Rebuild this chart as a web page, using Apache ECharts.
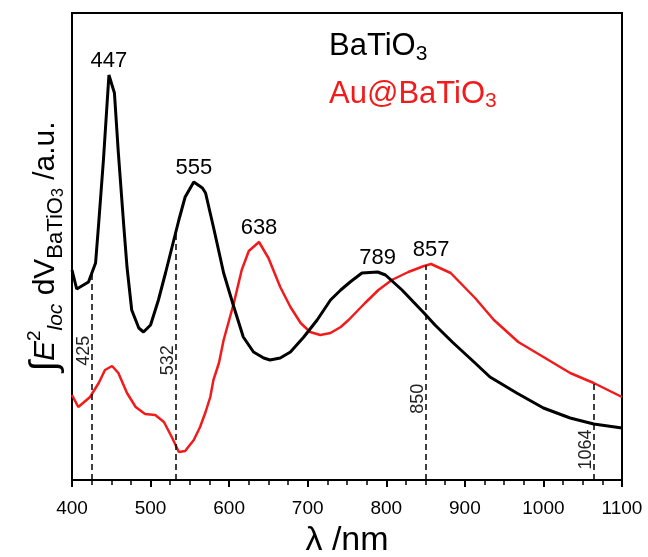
<!DOCTYPE html>
<html>
<head>
<meta charset="utf-8">
<script src="https://cdn.jsdelivr.net/npm/echarts@6/dist/echarts.min.js"></script>
<style>
  html, body { margin: 0; padding: 0; background: #fff; }
  #chart { width: 648px; height: 557px; }
</style>
</head>
<body>
<div id="chart"></div>
<script>
// wavelength (nm) and intensity (a.u.)
var batWl = [400, 406, 421, 430, 434, 440, 447, 454, 459, 466, 470, 476, 485, 491, 500, 510, 519, 536, 544, 555,
    566, 570, 580, 593, 606, 618, 631, 644, 652, 665, 678, 695, 712, 729, 742, 754, 769, 789, 799, 820,
    848, 862, 884, 913, 932, 966, 1000, 1034, 1064, 1100];
var batVal = [210, 191, 198, 217, 257, 320, 405, 387, 327, 253, 213, 170, 152, 148, 155, 180, 207, 260, 283, 298,
    292, 287, 253, 207, 173, 143, 128, 122, 120, 122, 128, 143, 160, 180, 190, 198, 207, 208, 205, 190,
    167, 155, 138, 117, 103, 87, 72, 62, 56, 52];

var auWl = [400, 408, 423, 434, 442, 451, 459, 470, 481, 493, 506, 517, 527, 536, 544, 555, 563, 570, 576, 580,
    587, 593, 606, 616, 625, 638, 650, 665, 678, 691, 703, 716, 729, 742, 752, 773, 790, 807, 828, 848,
    857, 882, 913, 937, 968, 1000, 1034, 1064, 1100];
var auVal = [85, 73, 83, 97, 110, 114, 107, 87, 73, 66, 65, 58, 43, 28, 29, 40, 53, 68, 83, 100,
    117, 140, 177, 210, 229, 238, 222, 193, 173, 157, 148, 145, 147, 153, 160, 177, 190, 200, 208, 214,
    216, 207, 182, 160, 138, 123, 107, 97, 83];

var batPeaks = [447, 555, 789];
var auPeaks = [638, 857];
var laserLines = [425, 532, 850, 1064];

var RED = '#f21b1b';
var FONT = "'Liberation Sans', Arial, sans-serif";

function zip(xs, ys) {
    var out = [];
    for (var i = 0; i < xs.length; i++) out.push([xs[i], ys[i]]);
    return out;
}
// linear lookup on a curve
function valAt(xs, ys, x) {
    for (var i = 0; i < xs.length - 1; i++) {
        if (x >= xs[i] && x <= xs[i + 1]) {
            var t = (x - xs[i]) / (xs[i + 1] - xs[i]);
            return ys[i] + t * (ys[i + 1] - ys[i]);
        }
    }
    return ys[ys.length - 1];
}

// shift of the rotated label along the dashed line (px, + = up)
var labelShift = { 425: 26, 532: -4, 850: -26, 1064: -18 };

var lineMarks = laserLines.map(function (x) {
    var top = Math.max(valAt(batWl, batVal, x), valAt(auWl, auVal, x));
    var s = labelShift[x];
    return [
        { coord: [x, 0], name: String(x),
          label: { padding: s > 0 ? [0, 0, 0, 2 * s] : [0, -2 * s, 0, 0] } },
        { coord: [x, top] }
    ];
});

function peakMarks(xs, ys, peaks) {
    return peaks.map(function (p) {
        return { coord: [p, valAt(xs, ys, p)], value: p };
    });
}

var peakLabel = {
    show: true, position: 'top', distance: 3,
    formatter: '{c}', color: '#000', fontSize: 22, fontFamily: FONT
};

var chart = echarts.init(document.getElementById('chart'));
chart.setOption({
    animation: false,
    backgroundColor: '#fff',
    grid: {
        left: 72, right: 26, top: 13, bottom: 77,
        outerBoundsMode: 'none',
        show: true, borderColor: '#000', borderWidth: 2
    },
    legend: {
        orient: 'vertical',
        left: 319, top: 26,
        icon: 'none', itemWidth: 0, itemHeight: 0, itemGap: 14,
        selectedMode: false,
        data: [
            { name: 'BaTiO3', textStyle: { color: '#000' } },
            { name: 'Au@BaTiO3', textStyle: { color: RED } }
        ],
        formatter: function (name) {
            return '{m|' + name.slice(0, -1) + '}{s|3}';
        },
        textStyle: {
            fontFamily: FONT,
            rich: {
                m: { fontSize: 31, lineHeight: 36, fontFamily: FONT },
                s: { fontSize: 21, lineHeight: 36, verticalAlign: 'bottom', fontFamily: FONT }
            }
        }
    },
    xAxis: {
        type: 'value', min: 400, max: 1100, interval: 100,
        name: 'λ /nm', nameLocation: 'middle', nameGap: 44,
        nameTextStyle: { fontSize: 34, color: '#000', fontFamily: FONT },
        axisLine: { lineStyle: { color: '#000', width: 2 } },
        axisTick: { show: true, length: 7, lineStyle: { color: '#000', width: 2 } },
        minorTick: { show: true, splitNumber: 4, length: 5, lineStyle: { color: '#000', width: 1.5 } },
        splitLine: { show: false },
        axisLabel: {
            fontSize: 19, color: '#000', margin: 19, fontFamily: FONT,
            formatter: function (v) { return String(v); }
        }
    },
    yAxis: {
        type: 'value', min: 0, max: 467,
        name: '{int|∫}{it|E}{sup|2}{subI|loc}{n| dV}{sub|BaTiO}{sub3|3}{n| /a.u.}',
        nameLocation: 'middle', nameRotate: 90, nameGap: 5,
        nameTextStyle: {
            color: '#000', fontFamily: FONT,
            rich: {
                int: { fontSize: 38, lineHeight: 42, fontFamily: FONT },
                it: { fontSize: 30, lineHeight: 42, fontStyle: 'italic', fontFamily: FONT },
                n: { fontSize: 30, lineHeight: 42, fontFamily: FONT },
                sup: { fontSize: 19, lineHeight: 42, verticalAlign: 'top', fontFamily: FONT },
                subI: { fontSize: 21, lineHeight: 42, verticalAlign: 'bottom', fontStyle: 'italic', fontFamily: FONT },
                sub: { fontSize: 22, lineHeight: 42, verticalAlign: 'bottom', fontFamily: FONT },
                sub3: { fontSize: 16, lineHeight: 38, verticalAlign: 'bottom', fontFamily: FONT }
            }
        },
        axisLine: { show: true, lineStyle: { color: '#000', width: 2 } },
        axisTick: { show: false },
        axisLabel: { show: false },
        splitLine: { show: false }
    },
    series: [
        {
            name: 'BaTiO3', type: 'line',
            data: zip(batWl, batVal),
            showSymbol: false,
            color: '#000',
            lineStyle: { color: '#000', width: 3 },
            markPoint: {
                symbol: 'circle', symbolSize: 0, silent: true,
                label: peakLabel,
                data: peakMarks(batWl, batVal, batPeaks)
            },
            markLine: {
                symbol: ['none', 'none'], silent: true,
                lineStyle: { color: '#000', type: [6, 4], width: 1.5 },
                label: {
                    show: true, position: 'middle', distance: -1,
                    formatter: '{b}', color: '#222', fontSize: 18, fontFamily: FONT
                },
                data: lineMarks
            },
            z: 3
        },
        {
            name: 'Au@BaTiO3', type: 'line',
            data: zip(auWl, auVal),
            showSymbol: false,
            color: RED,
            lineStyle: { color: RED, width: 2.5 },
            markPoint: {
                symbol: 'circle', symbolSize: 0, silent: true,
                label: peakLabel,
                data: peakMarks(auWl, auVal, auPeaks)
            },
            z: 2
        }
    ]
});
</script>
</body>
</html>
